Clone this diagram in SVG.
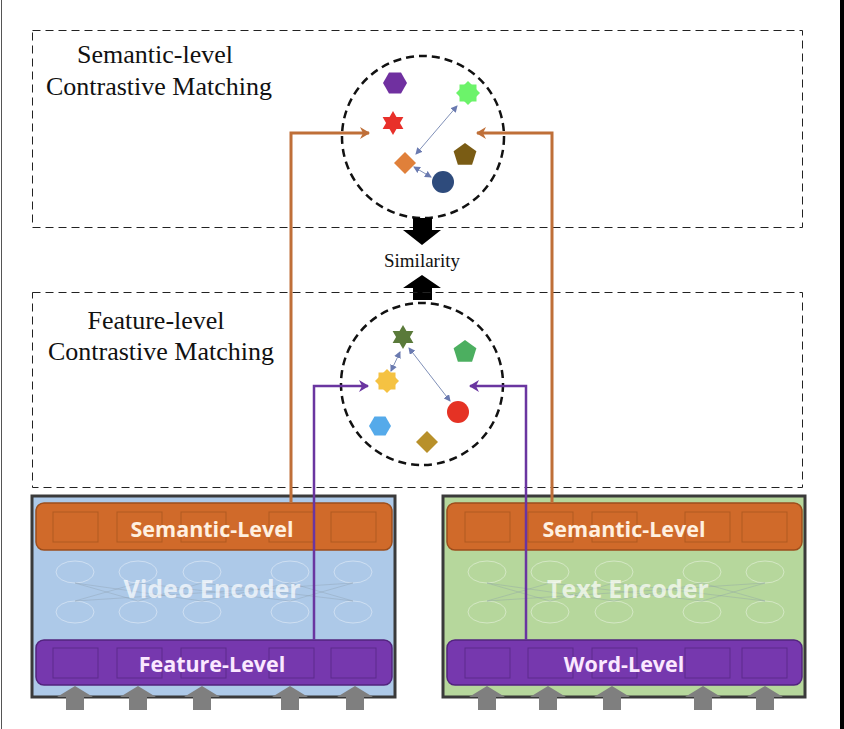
<svg xmlns="http://www.w3.org/2000/svg" width="844" height="729" viewBox="0 0 844 729">
<style>
.dbox{fill:none;stroke:#222;stroke-width:1;stroke-dasharray:8 5}
.dcirc{fill:none;stroke:#111;stroke-width:2.5;stroke-dasharray:8 5}
.lbl{font-family:"Liberation Serif","Times New Roman",serif;font-size:26px;fill:#111;text-anchor:middle}
.sim{font-family:"Liberation Serif","Times New Roman",serif;font-size:19px;fill:#111;text-anchor:middle}
.enc{stroke:#3a3a3a;stroke-width:3}
.obar{fill:#d06a2a;stroke:#9c4e1c;stroke-width:1.5}
.pbar{fill:#7638ae;stroke:#52247e;stroke-width:1.5}
.obox{fill:none;stroke:#b05a20;stroke-width:1}
.pbox{fill:none;stroke:#5c2a8c;stroke-width:1}
.btxt{font-family:"Open Sans","DejaVu Sans",sans-serif;font-weight:bold;font-size:21.5px;text-anchor:middle}
.etxt{font-family:"Open Sans","DejaVu Sans",sans-serif;font-weight:bold;font-size:25px;text-anchor:middle;fill:#ffffff;fill-opacity:0.7}
.nn{fill:none;stroke:#ffffff;stroke-opacity:0.4;stroke-width:1}
.nl{fill:none;stroke:#8a9aaa;stroke-opacity:0.35;stroke-width:1}
.garr{fill:#7f7f7f}
.oline{fill:none;stroke:#bf6f38;stroke-width:3}
.pline{fill:none;stroke:#6a35a0;stroke-width:2.5}
.thin{fill:none;stroke:#8090b8;stroke-width:1}
</style>
<defs>
<marker id="ao" markerWidth="12" markerHeight="12" refX="9" refY="6" orient="auto" markerUnits="userSpaceOnUse">
<path d="M0,0 L10,6 L0,12 L3,6 Z" fill="#bf6f38"/>
</marker>
<marker id="ap" markerWidth="12" markerHeight="12" refX="9" refY="6" orient="auto" markerUnits="userSpaceOnUse">
<path d="M0,0 L10,6 L0,12 L3,6 Z" fill="#6a35a0"/>
</marker>
<marker id="at" markerWidth="7" markerHeight="7" refX="6" refY="3.5" orient="auto-start-reverse" markerUnits="userSpaceOnUse">
<path d="M0,0 L7,3.5 L0,7 Z" fill="#6a7ab0"/>
</marker>
<g id="nnv">
<ellipse class="nn" cx="0" cy="0" rx="19" ry="11"/>
<ellipse class="nn" cx="63" cy="0" rx="19" ry="11"/>
<ellipse class="nn" cx="127" cy="0" rx="19" ry="11"/>
<ellipse class="nn" cx="215" cy="0" rx="19" ry="11"/>
<ellipse class="nn" cx="278" cy="0" rx="19" ry="11"/>
<ellipse class="nn" cx="0" cy="40" rx="19" ry="11"/>
<ellipse class="nn" cx="63" cy="40" rx="19" ry="11"/>
<ellipse class="nn" cx="127" cy="40" rx="19" ry="11"/>
<ellipse class="nn" cx="215" cy="40" rx="19" ry="11"/>
<ellipse class="nn" cx="278" cy="40" rx="19" ry="11"/>
<path class="nl" d="M0,11 L63,29 M0,11 L127,29 M63,11 L0,29 M63,11 L215,29 M127,11 L63,29 M127,11 L278,29 M215,11 L127,29 M215,11 L278,29 M278,11 L215,29 M278,11 L0,29"/>
</g>
</defs>

<rect x="0" y="0" width="844" height="729" fill="#ffffff"/>
<line x1="1.5" y1="0" x2="1.5" y2="729" stroke="#555" stroke-width="1"/>
<rect x="840" y="0" width="4" height="729" fill="#000"/>

<g id="semantic-panel">
<rect class="dbox" x="32.5" y="30.5" width="770" height="197"/>
<text class="lbl" x="155" y="63">Semantic-level</text>
<text class="lbl" x="159" y="95">Contrastive Matching</text>
<circle class="dcirc" cx="423" cy="137" r="81"/>
<polygon points="383,83 389,72.6 401,72.6 407,83 401,93.4 389,93.4" fill="#7030a0"/>
<g fill="#6cf36a" transform="translate(468,93)">
<rect x="-8.5" y="-8.5" width="17" height="17"/>
<rect x="-8.5" y="-8.5" width="17" height="17" transform="rotate(45)"/>
</g>
<g fill="#e8302a">
<polygon points="393,111 403.4,129 382.6,129"/>
<polygon points="393,135 403.4,117 382.6,117"/>
</g>
<polygon points="405,152 416,163 405,174 394,163" fill="#e0803a"/>
<polygon points="465,143 476.4,151.3 472.1,164.7 457.9,164.7 453.6,151.3" fill="#7a5c14"/>
<circle cx="443" cy="182" r="11" fill="#2e4b7c"/>
<line class="thin" x1="457" y1="106" x2="416" y2="154" marker-start="url(#at)" marker-end="url(#at)"/>
<line class="thin" x1="414" y1="167" x2="431" y2="177" marker-start="url(#at)" marker-end="url(#at)"/>
</g>

<g id="similarity">
<path d="M413,218 H432 V230 H441 L422,245 L403,230 H413 Z" fill="#000"/>
<text class="sim" x="422" y="267">Similarity</text>
<path d="M422,275 L441,288 H432 V300 H413 V288 H403 Z" fill="#000"/>
</g>

<g id="feature-panel">
<rect class="dbox" x="32.5" y="292.5" width="770" height="195"/>
<text class="lbl" x="156" y="329">Feature-level</text>
<text class="lbl" x="161" y="360">Contrastive Matching</text>
<circle class="dcirc" cx="422" cy="384" r="81"/>
<g fill="#5a7a3a">
<polygon points="403,325 413.4,343 392.6,343"/>
<polygon points="403,349 413.4,331 392.6,331"/>
</g>
<polygon points="465,340 476.4,348.3 472.1,361.7 457.9,361.7 453.6,348.3" fill="#4caf60"/>
<g fill="#f5c242" transform="translate(387,381)">
<rect x="-8.5" y="-8.5" width="17" height="17"/>
<rect x="-8.5" y="-8.5" width="17" height="17" transform="rotate(45)"/>
</g>
<circle cx="458" cy="412" r="11" fill="#e53224"/>
<polygon points="369,426 374.5,416.5 385.5,416.5 391,426 385.5,435.5 374.5,435.5" fill="#55aaea"/>
<polygon points="427,431 438,442 427,453 416,442" fill="#b8902a"/>
<line class="thin" x1="400" y1="352" x2="391" y2="371" marker-start="url(#at)" marker-end="url(#at)"/>
<line class="thin" x1="409" y1="348" x2="450" y2="401" marker-start="url(#at)" marker-end="url(#at)"/>
</g>

<g id="video-encoder">
<rect class="enc" x="32" y="496" width="363" height="201" fill="#adc9e8"/>
<use href="#nnv" x="75" y="572"/>
<text class="etxt" x="212" y="598">Video Encoder</text>
<rect class="obar" x="36" y="503" width="356" height="47" rx="8"/>
<g class="obox">
<rect x="53" y="512" width="45" height="30"/><rect x="117" y="512" width="45" height="30"/><rect x="181" y="512" width="45" height="30"/><rect x="269" y="512" width="45" height="30"/><rect x="331" y="512" width="45" height="30"/>
</g>
<text class="btxt" x="212" y="537" fill="#fff0e0">Semantic-Level</text>
<rect class="pbar" x="36" y="640" width="356" height="45" rx="8"/>
<g class="pbox">
<rect x="53" y="648" width="45" height="30"/><rect x="117" y="648" width="45" height="30"/><rect x="181" y="648" width="45" height="30"/><rect x="269" y="648" width="45" height="30"/><rect x="331" y="648" width="45" height="30"/>
</g>
<text class="btxt" x="212" y="672" fill="#fbe8ff">Feature-Level</text>
<g class="garr">
<path d="M75,686 L93,697 H84 V710 H66 V697 H57 Z"/>
<path d="M138,686 L156,697 H147 V710 H129 V697 H120 Z"/>
<path d="M202,686 L220,697 H211 V710 H193 V697 H184 Z"/>
<path d="M290,686 L308,697 H299 V710 H281 V697 H272 Z"/>
<path d="M355,686 L373,697 H364 V710 H346 V697 H337 Z"/>
</g>
</g>

<g id="text-encoder">
<rect class="enc" x="443" y="496" width="362" height="201" fill="#b6d79c"/>
<use href="#nnv" x="487" y="572"/>
<text class="etxt" x="628" y="598">Text Encoder</text>
<rect class="obar" x="447" y="503" width="355" height="47" rx="8"/>
<g class="obox">
<rect x="465" y="512" width="45" height="30"/><rect x="528" y="512" width="45" height="30"/><rect x="592" y="512" width="45" height="30"/><rect x="685" y="512" width="45" height="30"/><rect x="742" y="512" width="45" height="30"/>
</g>
<text class="btxt" x="624" y="537" fill="#fff0e0">Semantic-Level</text>
<rect class="pbar" x="447" y="640" width="355" height="45" rx="8"/>
<g class="pbox">
<rect x="465" y="648" width="45" height="30"/><rect x="528" y="648" width="45" height="30"/><rect x="592" y="648" width="45" height="30"/><rect x="685" y="648" width="45" height="30"/><rect x="742" y="648" width="45" height="30"/>
</g>
<text class="btxt" x="624" y="672" fill="#fbe8ff">Word-Level</text>
<g class="garr">
<path d="M487,686 L505,697 H496 V710 H478 V697 H469 Z"/>
<path d="M548,686 L566,697 H557 V710 H539 V697 H530 Z"/>
<path d="M612,686 L630,697 H621 V710 H603 V697 H594 Z"/>
<path d="M703,686 L721,697 H712 V710 H694 V697 H685 Z"/>
<path d="M765,686 L783,697 H774 V710 H756 V697 H747 Z"/>
</g>
</g>

<g id="connectors">
<path class="oline" d="M291,503 V133 H369" marker-end="url(#ao)"/>
<path class="oline" d="M552,503 V133 H477" marker-end="url(#ao)"/>
<path class="pline" d="M314,640 V386 H368" marker-end="url(#ap)"/>
<path class="pline" d="M526,640 V386 H470" marker-end="url(#ap)"/>
</g>
</svg>
